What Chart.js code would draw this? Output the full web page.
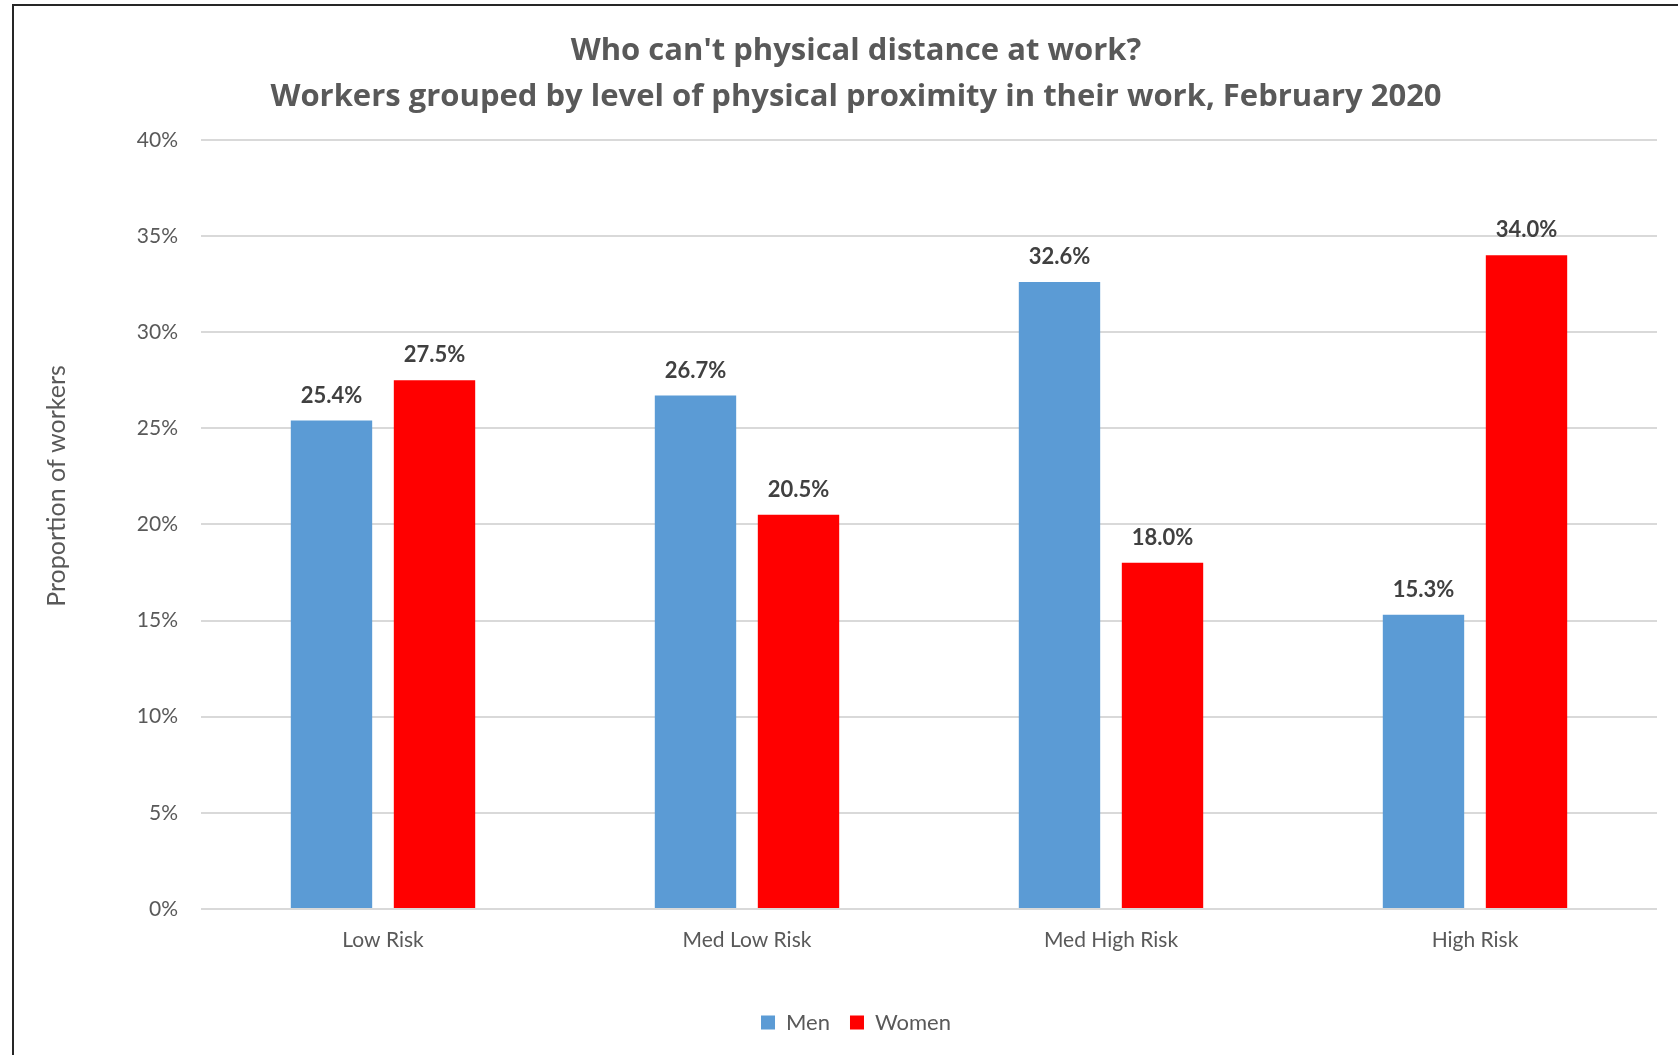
<!DOCTYPE html>
<html>
<head>
<meta charset="utf-8">
<script src="https://cdn.jsdelivr.net/npm/chart.js@4.4.1/dist/chart.umd.min.js"></script>
<style>
  html, body { margin: 0; padding: 0; background: #fff; }
  #wrap { position: relative; width: 1678px; height: 1055px; }
  #frame { position: absolute; left: 12px; top: 4px; right: -4px; bottom: -4px;
           border-left: 2px solid #262626; border-top: 2px solid #262626; }
  #c { position: absolute; left: 0; top: 0; }
</style>
</head>
<body>
<div id="wrap">
  <div id="frame"></div>
  <canvas id="c" width="1678" height="1055"></canvas>
</div>
<script>
// categorie e valori
const categories = ['Low Risk', 'Med Low Risk', 'Med High Risk', 'High Risk'];
const menValues = [25.4, 26.7, 32.6, 15.3];
const womenValues = [27.5, 20.5, 18.0, 34.0];
const yTicks = [0, 5, 10, 15, 20, 25, 30, 35, 40];

const grey = '#595959';

// etichette sopra le barre
const valueLabels = {
  id: 'valueLabels',
  afterDatasetsDraw(chart) {
    const ctx = chart.ctx;
    ctx.save();
    ctx.font = 'bold 22px Lato';
    ctx.fillStyle = '#404040';
    ctx.textAlign = 'center';
    ctx.textBaseline = 'middle';
    chart.data.datasets.forEach((ds, i) => {
      chart.getDatasetMeta(i).data.forEach((bar, j) => {
        ctx.fillText(ds.data[j].toFixed(1) + '%', bar.x, bar.y - 25);
      });
    });
    ctx.restore();
  }
};

const data = {
  labels: categories,
  datasets: [
    { label: 'Men', data: menValues, backgroundColor: '#5B9BD5' },
    { label: 'Women', data: womenValues, backgroundColor: '#FF0000' }
  ]
};

const config = {
  type: 'bar',
  data: data,
  options: {
    responsive: false,
    animation: false,
    layout: { padding: { left: 55, right: 21, top: 0, bottom: 11.5 } },
    datasets: {
      bar: { categoryPercentage: 0.566, barPercentage: 0.79 }
    },
    scales: {
      x: {
        grid: { display: false },
        border: { display: false },
        ticks: { color: grey, font: { family: 'Lato', size: 21 }, padding: 11 },
        afterFit(scale) { scale.height = 82.5; }
      },
      y: {
        min: 0,
        max: 40,
        afterBuildTicks(scale) { scale.ticks = yTicks.map(v => ({ value: v })); },
        grid: { color: '#d9d9d9', lineWidth: 2, drawTicks: false },
        border: { display: false },
        ticks: {
          color: grey,
          font: { family: 'Lato', size: 21 },
          padding: 23,
          callback: v => v + '%'
        },
        title: {
          display: true,
          // spazi iniziali per spostare il titolo verso l'alto come nell'originale
          text: '\u00A0'.repeat(12) + 'Proportion of workers',
          color: grey,
          font: { family: 'Lato', size: 25 },
          padding: { top: -13, bottom: 0 }
        },
        afterFit(scale) { scale.width = 146; }
      }
    },
    plugins: {
      title: {
        display: true,
        text: ["Who can't physical distance at work?",
               'Workers grouped by level of physical proximity in their work, February 2020'],
        color: grey,
        font: { family: 'Open Sans', size: 31, weight: 'bold', lineHeight: 1.48 },
        padding: { top: 28, bottom: 20 }
      },
      legend: {
        position: 'bottom',
        labels: {
          color: grey,
          font: { family: 'Lato', size: 22 },
          boxWidth: 14,
          boxHeight: 14,
          padding: 20
        }
      },
      tooltip: { enabled: false }
    }
  },
  plugins: [valueLabels]
};

const ctx = document.getElementById('c').getContext('2d');
new Chart(ctx, config);
</script>
</body>
</html>
